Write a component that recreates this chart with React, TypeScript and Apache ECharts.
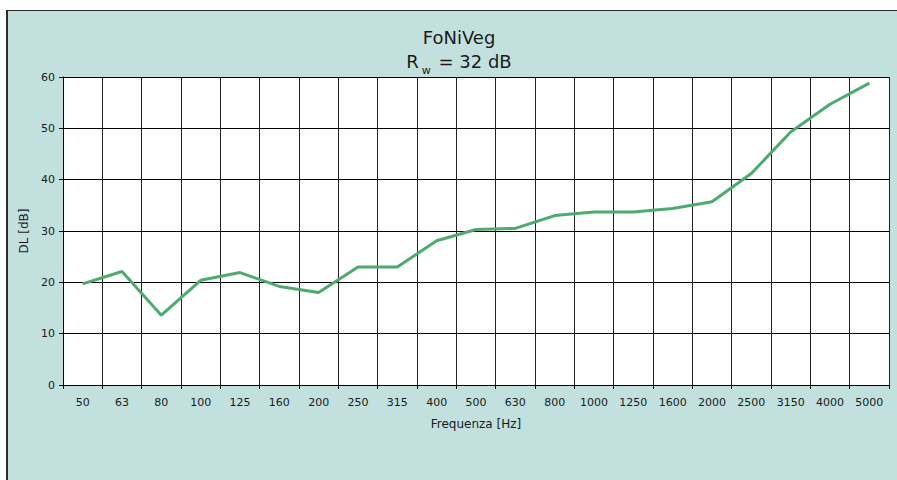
import React, { useEffect, useRef } from "react";
import * as echarts from "echarts";

const frequencies = ["50", "63", "80", "100", "125", "160", "200", "250", "315", "400", "500", "630", "800", "1000", "1250", "1600", "2000", "2500", "3150", "4000", "5000"];
const dlValues = [19.7, 22.1, 13.6, 20.4, 21.9, 19.2, 18.0, 23.0, 23.0, 28.1, 30.3, 30.5, 33.0, 33.7, 33.7, 34.4, 35.7, 41.2, 49.3, 54.7, 58.8];
const yTicks = { min: 0, max: 60, interval: 10 };

const FONT = "'DejaVu Sans', sans-serif";
const TEXT = "#1a1a1a";

export default function App() {
  const ref = useRef<HTMLDivElement>(null);
  useEffect(() => {
    if (!ref.current) return;
    const chart = echarts.init(ref.current, undefined, { renderer: "svg" });
    chart.setOption({
      animation: false,
      backgroundColor: "transparent",
      title: {
        text: "FoNiVeg\n{r|R}{s|w}{r| = 32 dB}",
        left: 454,
        textAlign: "center",
        top: 20,
        textStyle: {
          fontFamily: FONT,
          fontSize: 18,
          fontWeight: "normal",
          color: TEXT,
          lineHeight: 24,
          rich: {
            r: { fontFamily: FONT, fontSize: 18, color: TEXT, lineHeight: 24 },
            s: { fontFamily: FONT, fontSize: 11, color: TEXT, verticalAlign: "bottom", padding: [0, 2, -3, 3], lineHeight: 24 },
          },
        },
      },
      grid: {
        left: 63,
        right: 8,
        top: 77,
        bottom: 95,
        show: true,
        backgroundColor: "#ffffff",
        borderWidth: 0,
      },
      xAxis: {
        type: "category",
        data: frequencies,
        boundaryGap: true,
        name: "Frequenza [Hz]",
        nameLocation: "middle",
        nameGap: 33,
        nameTextStyle: { fontFamily: FONT, fontSize: 12, color: TEXT },
        axisLine: { show: true, lineStyle: { color: "#000", width: 1 } },
        axisTick: { show: true, length: 4, inside: false, lineStyle: { color: "#000" } },
        axisLabel: { fontFamily: FONT, fontSize: 11, color: TEXT, margin: 12, interval: 0 },
        splitLine: { show: true, lineStyle: { color: "#222", width: 1 } },
      },
      yAxis: {
        type: "value",
        min: yTicks.min,
        max: yTicks.max,
        interval: yTicks.interval,
        name: "DL [dB]",
        nameLocation: "middle",
        nameGap: 30,
        nameTextStyle: { fontFamily: FONT, fontSize: 12, color: TEXT },
        axisLine: { show: true, lineStyle: { color: "#000", width: 1 } },
        axisTick: { show: true, length: 4, inside: false, lineStyle: { color: "#000" } },
        axisLabel: { fontFamily: FONT, fontSize: 11, color: TEXT, margin: 8 },
        splitLine: { show: true, lineStyle: { color: "#000", width: 1 } },
      },
      series: [
        {
          type: "line",
          data: dlValues,
          showSymbol: false,
          symbol: "none",
          lineStyle: { color: "#4dab6f", width: 3 },
          itemStyle: { color: "#4dab6f" },
        },
      ],
    });
    return () => chart.dispose();
  }, []);

  return (
    <div style={{ position: "absolute", left: 0, top: 0, width: 897, height: 480, background: "#ffffff", overflow: "hidden" }}>
      <div
        style={{
          position: "absolute",
          left: 6,
          top: 10,
          width: 897,
          height: 480,
          background: "#c2e1de",
          borderLeft: "2px solid #2a2a2a",
          borderTop: "1px solid #2a2a2a",
        }}
      />
      <div ref={ref} style={{ position: "absolute", left: 0, top: 0, width: 897, height: 480 }} />
    </div>
  );
}
